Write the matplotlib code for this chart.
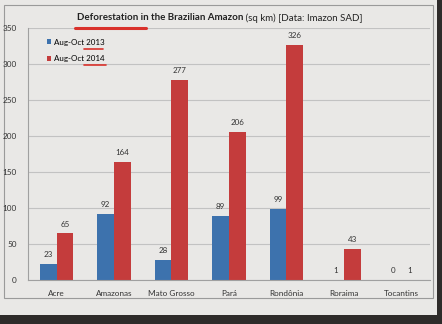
import numpy as np
import matplotlib.pyplot as plt
from matplotlib.patches import Rectangle
from matplotlib.lines import Line2D

states = ['Acre', 'Amazonas', 'Mato Grosso', 'Pará', 'Rondônia', 'Roraima', 'Tocantins']
aug_oct_2013 = [23, 92, 28, 89, 99, 1, 0]
aug_oct_2014 = [65, 164, 277, 206, 326, 43, 1]

blue = '#3d72ad'
red = '#c43c3c'
pen = '#d9312b'

plt.rcParams['font.family'] = ['Lato', 'DejaVu Sans']

fig = plt.figure(figsize=(4.42, 3.24), dpi=100)
fig.patch.set_facecolor('#2e2b2a')

# paper sheet in a background axes
bg = fig.add_axes([0, 0, 1, 1], zorder=-10)
bg.set_xlim(0, 1)
bg.set_ylim(0, 1)
bg.axis('off')
bg.add_patch(Rectangle((0.0, 0.028), 0.988, 0.972, facecolor='#e9e8e6', edgecolor='none'))
bg.add_patch(Rectangle((0.01, 0.08), 0.97, 0.905, facecolor='none', edgecolor='#9a9a9a', lw=0.8))

ax = fig.add_axes([0.063, 0.135, 0.91, 0.78])
ax.set_facecolor('none')
x = np.arange(len(states))
w = 0.29
b1 = ax.bar(x - w/2, aug_oct_2013, w, color=blue, label='Aug-Oct 2013')
b2 = ax.bar(x + w/2, aug_oct_2014, w, color=red, label='Aug-Oct 2014')

for bars, vals in [(b1, aug_oct_2013), (b2, aug_oct_2014)]:
    for r, v in zip(bars, vals):
        ax.text(r.get_x() + r.get_width()/2, v + 8, str(v), ha='center', va='bottom',
                fontsize=5.8, color='#333333')

ax.set_ylim(0, 350)
ax.set_xlim(-0.5, len(states) - 0.5)
ax.set_yticks(range(0, 351, 50))
ax.yaxis.grid(True, color='#c2c2c2', lw=0.8)
ax.set_axisbelow(True)
ax.set_xticks(x)
ax.set_xticklabels(states)
ax.tick_params(axis='both', labelsize=5.9, colors='#333333', length=0)
ax.tick_params(axis='y', pad=8)
ax.tick_params(axis='x', pad=7)
for s in ['top', 'right']:
    ax.spines[s].set_visible(False)
ax.spines['left'].set_color('#a0a0a0')
ax.spines['bottom'].set_color('#a0a0a0')

ax.legend(loc='upper left', bbox_to_anchor=(0.03, 0.985), fontsize=5.8, frameon=False,
          handlelength=0.5, handleheight=0.5, handletextpad=0.4, labelspacing=1.2)

t1 = fig.text(0.174, 0.945, 'Deforestation in the Brazilian Amazon', fontsize=7,
              fontweight='bold', color='#222222', va='center')
ax.annotate(' (sq km) [Data: Imazon SAD]', xy=(1, 0.5), xycoords=t1, va='center',
            fontsize=7, color='#222222', annotation_clip=False)

# red marker pen underlines, drawn on top of everything
for xs, ys, lw in [([0.17, 0.33], [0.913, 0.913], 2.2),
                   ([0.19, 0.234], [0.85, 0.85], 1.2),
                   ([0.19, 0.24], [0.8, 0.8], 1.2)]:
    fig.add_artist(Line2D(xs, ys, transform=fig.transFigure, color=pen, lw=lw,
                          solid_capstyle='round', zorder=20))

fig.savefig('out.png', dpi=100, facecolor=fig.get_facecolor())
